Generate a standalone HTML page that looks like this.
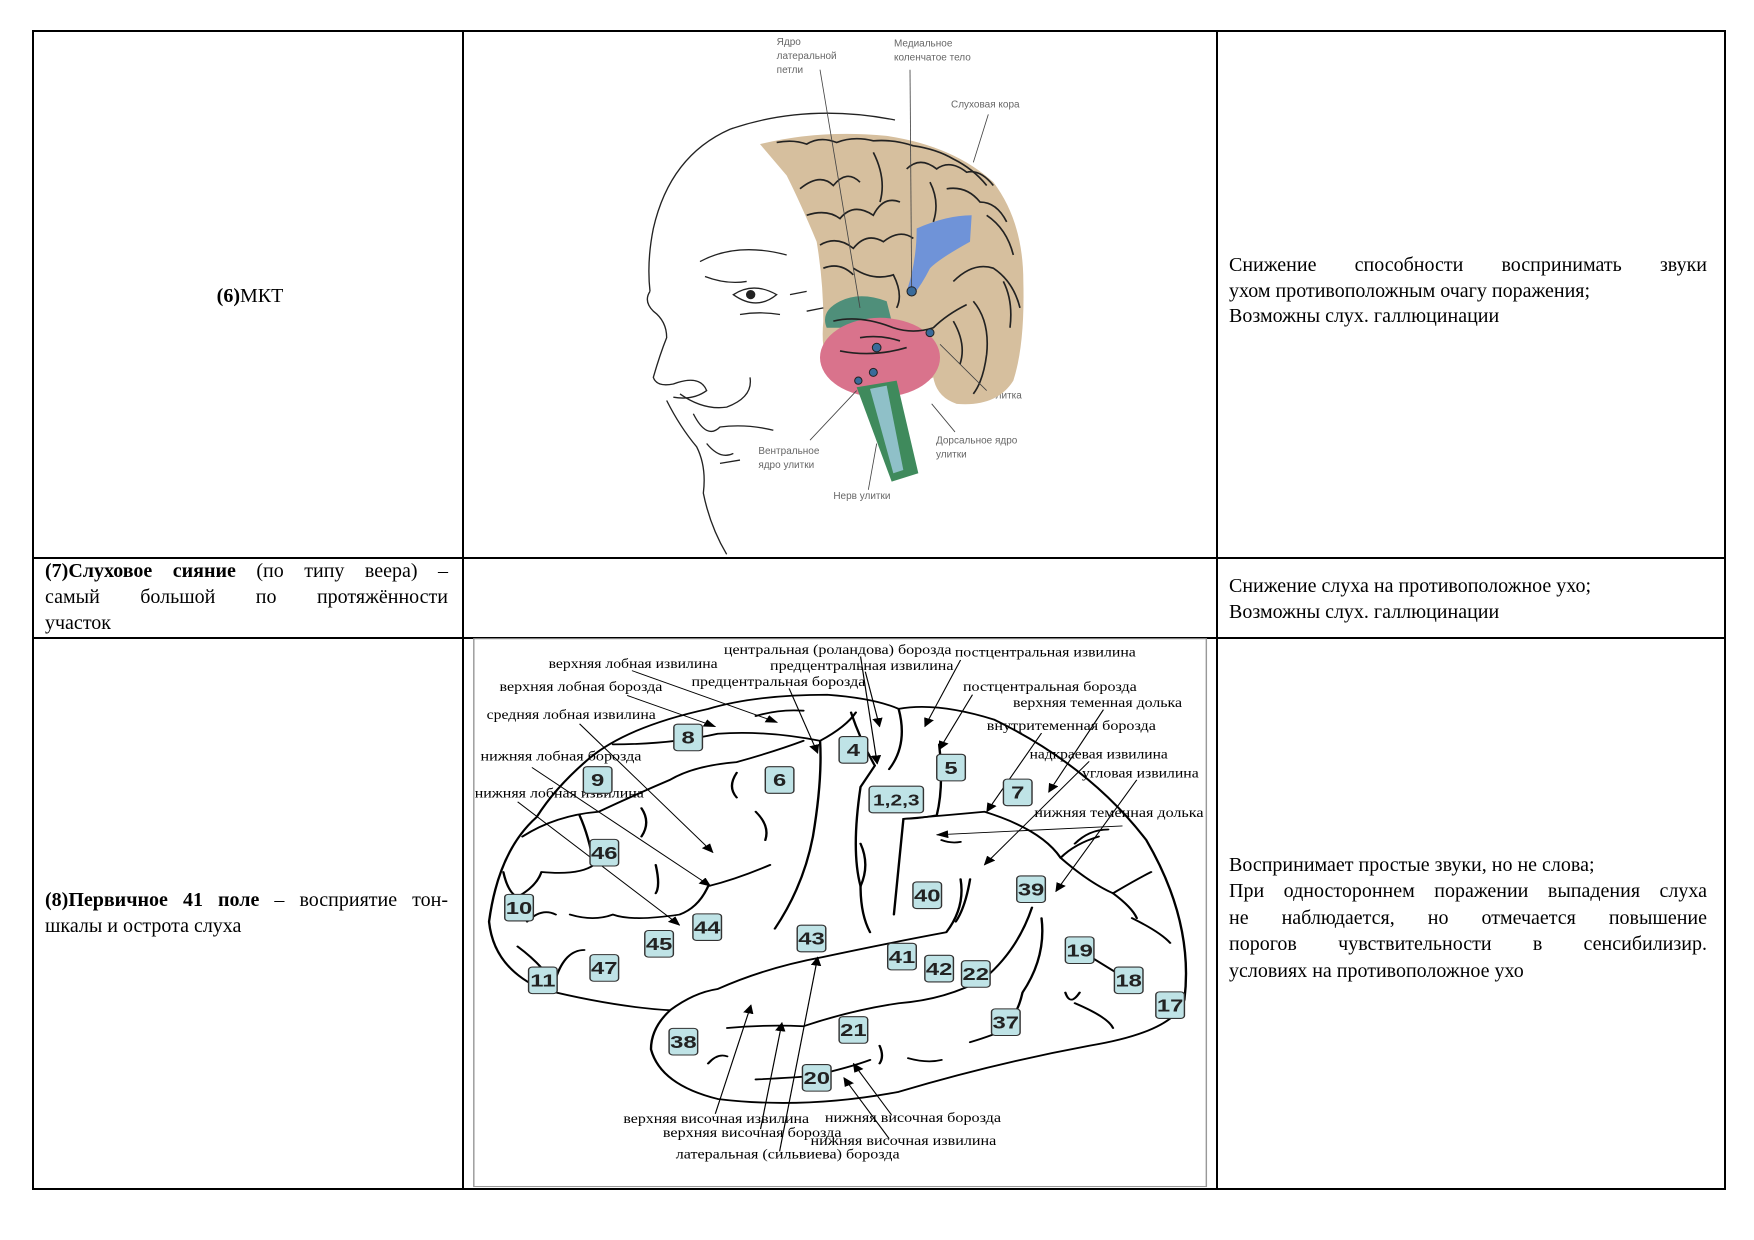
<!DOCTYPE html>
<html><head><meta charset="utf-8">
<style>
html,body{margin:0;padding:0;background:#fff;}
body{width:1754px;height:1240px;position:relative;overflow:hidden;font-family:"Liberation Serif","Noto Serif CJK SC",serif;color:#000;}
.h{position:absolute;height:2px;background:#000;}
.v{position:absolute;width:2px;background:#000;}
.t{position:absolute;font-size:20px;line-height:26px;height:26px;white-space:nowrap;}
.j{text-align:justify;text-align-last:justify;}
</style></head><body>
<div class="h" style="left:32px;top:30px;width:1694px"></div>
<div class="h" style="left:32px;top:557px;width:1694px"></div>
<div class="h" style="left:32px;top:637px;width:1694px"></div>
<div class="h" style="left:32px;top:1188px;width:1694px"></div>
<div class="v" style="left:32px;top:30px;height:1160px"></div>
<div class="v" style="left:462px;top:30px;height:1160px"></div>
<div class="v" style="left:1216px;top:30px;height:1160px"></div>
<div class="v" style="left:1724px;top:30px;height:1160px"></div>

<div class="t" style="left:150px;width:200px;top:283px;text-align:center"><b>(6)</b>МКТ</div>
<div class="t j" style="left:1229px;width:478px;top:252px">Снижение способности воспринимать звуки</div>
<div class="t" style="left:1229px;top:278px">ухом противоположным очагу поражения;</div>
<div class="t" style="left:1229px;top:303px">Возможны слух. галлюцинации</div>

<div class="t j" style="left:45px;width:403px;top:558px"><b>(7)Слуховое сияние</b> (по типу веера) –</div>
<div class="t j" style="left:45px;width:403px;top:584px">самый большой по протяжённости</div>
<div class="t" style="left:45px;top:610px">участок</div>
<div class="t" style="left:1229px;top:573px">Снижение слуха на противоположное ухо;</div>
<div class="t" style="left:1229px;top:599px">Возможны слух. галлюцинации</div>

<div class="t j" style="left:45px;width:403px;top:887px"><b>(8)Первичное 41 поле</b> – восприятие тон-</div>
<div class="t" style="left:45px;top:913px">шкалы и острота слуха</div>
<div class="t" style="left:1229px;top:852px">Воспринимает простые звуки, но не слова;</div>
<div class="t j" style="left:1229px;width:478px;top:878px">При одностороннем поражении выпадения слуха</div>
<div class="t j" style="left:1229px;width:478px;top:905px">не наблюдается, но отмечается повышение</div>
<div class="t j" style="left:1229px;width:478px;top:931px">порогов чувствительности в сенсибилизир.</div>
<div class="t" style="left:1229px;top:958px">условиях на противоположное ухо</div>

<svg style="position:absolute;left:620px;top:30px" width="450" height="526" viewBox="0 0 1350 1590" preserveAspectRatio="none">
<g font-family="Liberation Sans, sans-serif" font-size="30" fill="#666">
<text x="470" y="45">Ядро</text><text x="470" y="87">латеральной</text><text x="470" y="130">петли</text>
<text x="822" y="50">Медиальное</text><text x="822" y="92">коленчатое тело</text>
<text x="993" y="234">Слуховая кора</text>
<text x="1110" y="1114">Улитка</text>
<text x="948" y="1250">Дорсальное ядро</text><text x="948" y="1292">улитки</text>
<text x="415" y="1282">Вентральное</text><text x="415" y="1324">ядро улитки</text>
<text x="640" y="1417">Нерв улитки</text>
</g>
<path d="M420,345 Q600,300 800,320 Q1000,350 1120,460 Q1210,580 1210,760 Q1215,950 1180,1060 Q1130,1140 1010,1130 Q950,1110 940,1050 L880,1080 Q760,1100 640,1060 Q600,980 610,880 Q610,760 590,640 Q540,520 500,440 Z" fill="#d6bf9e"/>
<path d="M660,820 Q720,790 800,820 L820,900 Q720,900 620,900 Q600,850 660,820Z" fill="#4f8f7a"/>
<ellipse cx="780" cy="990" rx="180" ry="120" fill="#d9738c"/>
<path d="M710,1080 L830,1060 L895,1340 L815,1365 Z" fill="#3f8a5c"/>
<path d="M750,1085 L800,1075 L850,1330 L820,1340 Z" fill="#8fc0c8"/>
<path d="M890,600 Q980,560 1055,560 L1050,640 Q960,690 930,720 Q905,770 880,800 L860,790 Q890,700 890,600Z" fill="#6f93d8"/>
<g fill="none" stroke="#222" stroke-width="5">
<path d="M470,340 Q520,330 560,345 Q600,320 650,340 Q700,320 760,335 Q820,330 880,350 Q950,360 1000,390 Q1060,420 1100,470"/>
<path d="M540,480 Q600,430 640,470 Q680,420 720,460 M560,560 Q620,540 660,570 Q700,520 760,560 Q790,500 840,520"/>
<path d="M600,650 Q650,620 700,660 Q740,610 790,640 Q840,600 880,630 M610,720 Q660,700 700,740"/>
<path d="M860,420 Q900,380 950,420 Q990,390 1040,430 Q1080,420 1120,470 M980,480 Q1040,470 1080,520 Q1130,520 1160,580"/>
<path d="M1100,560 Q1160,600 1180,680 M1150,760 Q1180,820 1170,900 M1000,760 Q1060,700 1120,720 Q1180,760 1200,840"/>
<path d="M640,880 Q720,860 820,900 Q880,920 940,900 Q980,860 1040,830"/>
<path d="M1000,880 Q1040,950 1020,1010 M1060,820 Q1110,880 1100,980 Q1090,1060 1060,1100"/>
<path d="M700,720 Q760,760 820,740 Q850,800 830,840"/>
<path d="M720,930 Q780,920 840,940 M660,970 Q760,990 860,960"/>
<path d="M760,370 Q800,450 780,520 M930,460 Q960,520 940,580"/>
</g>
<g fill="none" stroke="#222" stroke-width="4">
<path d="M825,272 Q560,220 330,300 Q150,380 100,600 Q80,700 90,790"/>
<path d="M90,790 Q70,820 100,850 Q140,880 140,930 Q120,980 100,1050 Q110,1080 160,1070 Q240,1040 260,1090 Q220,1120 160,1110"/>
<path d="M140,1120 Q180,1200 230,1260 Q260,1320 250,1400 Q270,1500 320,1585"/>
<path d="M240,700 Q350,640 500,680"/>
<path d="M255,745 Q320,770 380,760"/>
<path d="M340,800 Q400,760 470,800 Q410,850 340,800Z"/>
<path d="M360,860 Q420,850 480,860"/>
<path d="M180,1100 Q250,1150 320,1140 Q400,1110 390,1050 M220,1160 Q260,1240 300,1200 Q380,1190 460,1210 M260,1250 Q300,1300 340,1280 M300,1310 L360,1300"/>
<path d="M510,800 L560,790 M560,850 L610,840"/>
</g>
<circle cx="392" cy="800" r="14" fill="#222"/>
<g stroke="#444" stroke-width="2.5">
<line x1="600" y1="120" x2="720" y2="840"/>
<line x1="870" y1="120" x2="875" y2="790"/>
<line x1="1105" y1="255" x2="1060" y2="400"/>
<line x1="1100" y1="1090" x2="960" y2="950"/>
<line x1="1005" y1="1215" x2="935" y2="1130"/>
<line x1="570" y1="1240" x2="710" y2="1090"/>
<line x1="745" y1="1390" x2="770" y2="1250"/>
</g>
<g fill="#3a6b9a" stroke="#222" stroke-width="3">
<circle cx="875" cy="790" r="14"/><circle cx="930" cy="915" r="12"/><circle cx="770" cy="960" r="13"/><circle cx="760" cy="1035" r="12"/><circle cx="715" cy="1060" r="11"/>
</g>
</svg>

<svg style="position:absolute;left:470px;top:638px" width="743" height="551" viewBox="0 0 1560 1554" preserveAspectRatio="none">
<defs><marker id="b" markerWidth="26" markerHeight="22" refX="24" refY="11" orient="auto" markerUnits="userSpaceOnUse"><path d="M0,0 L26,11 L0,22Z" fill="#000"/></marker></defs>
<rect x="8" y="2" width="1538" height="1545" fill="#fff" stroke="#999" stroke-width="3"/>
<g fill="none" stroke="#000" stroke-width="5" stroke-linecap="round" stroke-linejoin="round">
<path d="M140,505 Q60,600 40,800 Q50,930 150,990 Q300,1040 420,1050 Q380,1100 380,1160 Q400,1260 520,1300 Q700,1330 900,1280 Q1100,1200 1300,1150 Q1480,1110 1500,1020 Q1520,800 1420,570 Q1300,360 1100,230 Q980,180 900,200 Q850,170 750,160 Q600,160 500,200 Q330,250 250,340 Q180,420 140,505Z"/>
<path d="M420,1050 Q470,1000 520,990 Q620,930 740,900 Q880,860 1000,830 Q1040,760 1030,680"/>
<path d="M300,300 Q420,300 520,270 Q620,260 735,290 Q790,250 810,210"/>
<path d="M735,290 Q740,400 720,560 Q700,700 640,820"/>
<path d="M800,210 Q820,290 850,360 Q840,380 820,420 Q800,600 820,700 Q820,780 840,830"/>
<path d="M900,200 Q920,300 880,370"/>
<path d="M985,300 Q995,420 980,500 Q940,510 910,510 Q900,650 890,780"/>
<path d="M910,510 Q1000,500 1080,490 Q1200,540 1240,620 Q1300,690 1350,720 Q1400,680 1430,660"/>
<path d="M1350,720 Q1390,760 1400,790 M1240,620 Q1270,580 1320,560"/>
<path d="M110,560 Q180,500 270,490 Q350,440 420,400 Q470,360 560,350 Q640,320 700,290"/>
<path d="M70,660 Q80,720 100,730 Q140,700 150,660 Q230,670 260,640"/>
<path d="M120,800 Q150,760 180,780 M210,780 Q260,800 300,780 Q340,800 440,780 Q480,760 500,700 Q560,680 630,640"/>
<path d="M100,870 Q130,900 150,930 M180,960 Q200,880 240,880 M230,500 Q250,560 260,640"/>
<path d="M540,1100 Q620,1090 700,1095 Q800,1050 900,1030 Q1000,1020 1080,960 Q1150,880 1180,760"/>
<path d="M600,1245 Q680,1240 720,1235 Q800,1210 840,1190"/>
<path d="M1200,790 Q1210,900 1160,1000 Q1150,1060 1130,1080 M1050,1140 Q1100,1120 1130,1100"/>
<path d="M920,1185 Q960,1200 990,1190 M860,1150 Q870,1180 860,1200 M1280,880 Q1340,930 1383,965 M1250,1000 Q1260,1040 1280,1000 M1270,1030 Q1340,1070 1350,1100"/>
<path d="M1390,790 Q1450,830 1470,860 M1270,580 Q1300,540 1340,540 M500,1200 Q520,1170 540,1180"/>
<path d="M560,380 Q540,420 560,450 M600,490 Q630,530 620,570 M360,480 Q380,520 360,560 M390,640 Q400,700 390,720"/>
<path d="M820,580 Q840,640 820,700 M1050,680 Q1040,760 1020,800"/>
<path d="M990,570 Q1010,580 1030,575 M600,220 Q650,200 700,205"/>
</g>
<g stroke="#000" stroke-width="2.5" marker-end="url(#b)">
<line x1="340" y1="92" x2="645" y2="238"/>
<line x1="330" y1="162" x2="515" y2="250"/>
<line x1="230" y1="242" x2="510" y2="605"/>
<line x1="130" y1="365" x2="505" y2="700"/>
<line x1="100" y1="462" x2="440" y2="810"/>
<line x1="670" y1="142" x2="730" y2="325"/>
<line x1="820" y1="52" x2="855" y2="355"/>
<line x1="830" y1="95" x2="860" y2="250"/>
<line x1="1030" y1="62" x2="955" y2="250"/>
<line x1="1055" y1="160" x2="985" y2="315"/>
<line x1="1200" y1="268" x2="1085" y2="490"/>
<line x1="1330" y1="202" x2="1215" y2="435"/>
<line x1="1300" y1="348" x2="1080" y2="640"/>
<line x1="1400" y1="400" x2="1230" y2="715"/>
<line x1="1370" y1="530" x2="980" y2="555"/>
<line x1="515" y1="1342" x2="590" y2="1035"/>
<line x1="610" y1="1385" x2="655" y2="1085"/>
<line x1="650" y1="1448" x2="730" y2="900"/>
<line x1="885" y1="1345" x2="805" y2="1200"/>
<line x1="880" y1="1412" x2="785" y2="1240"/>
</g>
<g font-family="Liberation Serif, serif" font-size="40" fill="#000">
<text x="533" y="45" textLength="478" lengthAdjust="spacingAndGlyphs">центральная (роландова) борозда</text>
<text x="1018" y="52" textLength="380" lengthAdjust="spacingAndGlyphs">постцентральная извилина</text>
<text x="165" y="85" textLength="355" lengthAdjust="spacingAndGlyphs">верхняя лобная извилина</text>
<text x="630" y="90" textLength="385" lengthAdjust="spacingAndGlyphs">предцентральная извилина</text>
<text x="465" y="135" textLength="365" lengthAdjust="spacingAndGlyphs">предцентральная борозда</text>
<text x="62" y="150" textLength="342" lengthAdjust="spacingAndGlyphs">верхняя лобная борозда</text>
<text x="1035" y="150" textLength="365" lengthAdjust="spacingAndGlyphs">постцентральная борозда</text>
<text x="1140" y="195" textLength="355" lengthAdjust="spacingAndGlyphs">верхняя теменная долька</text>
<text x="35" y="228" textLength="355" lengthAdjust="spacingAndGlyphs">средняя лобная извилина</text>
<text x="1085" y="260" textLength="355" lengthAdjust="spacingAndGlyphs">внутритеменная борозда</text>
<text x="22" y="345" textLength="338" lengthAdjust="spacingAndGlyphs">нижняя лобная борозда</text>
<text x="1175" y="340" textLength="290" lengthAdjust="spacingAndGlyphs">надкраевая извилина</text>
<text x="1285" y="393" textLength="245" lengthAdjust="spacingAndGlyphs">угловая извилина</text>
<text x="10" y="450" textLength="355" lengthAdjust="spacingAndGlyphs">нижняя лобная извилина</text>
<text x="1185" y="505" textLength="355" lengthAdjust="spacingAndGlyphs">нижняя теменная долька</text>
<text x="322" y="1368" textLength="390" lengthAdjust="spacingAndGlyphs">верхняя височная извилина</text>
<text x="745" y="1365" textLength="370" lengthAdjust="spacingAndGlyphs">нижняя височная борозда</text>
<text x="405" y="1408" textLength="375" lengthAdjust="spacingAndGlyphs">верхняя височная борозда</text>
<text x="715" y="1430" textLength="390" lengthAdjust="spacingAndGlyphs">нижняя височная извилина</text>
<text x="432" y="1468" textLength="470" lengthAdjust="spacingAndGlyphs">латеральная (сильвиева) борозда</text>
</g>
<g font-family="Liberation Sans, sans-serif" font-size="50" font-weight="bold" text-anchor="middle" fill="#222">
<g fill="#bfe3e6" stroke="#333" stroke-width="3">
<rect x="428" y="243" width="60" height="75" rx="8"/><rect x="238" y="363" width="60" height="75" rx="8"/>
<rect x="620" y="363" width="60" height="75" rx="8"/><rect x="775" y="278" width="60" height="75" rx="8"/>
<rect x="980" y="328" width="60" height="75" rx="8"/><rect x="838" y="418" width="114" height="75" rx="8"/>
<rect x="1120" y="398" width="60" height="75" rx="8"/><rect x="252" y="568" width="60" height="75" rx="8"/>
<rect x="73" y="723" width="60" height="75" rx="8"/><rect x="930" y="688" width="60" height="75" rx="8"/>
<rect x="1148" y="671" width="60" height="75" rx="8"/><rect x="468" y="778" width="60" height="75" rx="8"/>
<rect x="367" y="825" width="60" height="75" rx="8"/><rect x="687" y="810" width="60" height="75" rx="8"/>
<rect x="877" y="861" width="60" height="75" rx="8"/><rect x="955" y="895" width="60" height="75" rx="8"/>
<rect x="1032" y="910" width="60" height="75" rx="8"/><rect x="1250" y="843" width="60" height="75" rx="8"/>
<rect x="1353" y="928" width="60" height="75" rx="8"/><rect x="1440" y="998" width="60" height="75" rx="8"/>
<rect x="252" y="893" width="60" height="75" rx="8"/><rect x="123" y="928" width="60" height="75" rx="8"/>
<rect x="418" y="1101" width="60" height="75" rx="8"/><rect x="775" y="1068" width="60" height="75" rx="8"/>
<rect x="1095" y="1046" width="60" height="75" rx="8"/><rect x="698" y="1203" width="60" height="75" rx="8"/>
</g>
<text x="458" y="298">8</text><text x="268" y="418">9</text><text x="650" y="418">6</text><text x="805" y="333">4</text>
<text x="1010" y="383">5</text><text x="895" y="473" font-size="44">1,2,3</text><text x="1150" y="453">7</text><text x="282" y="623">46</text>
<text x="103" y="778">10</text><text x="960" y="743">40</text><text x="1178" y="726">39</text><text x="498" y="833">44</text>
<text x="397" y="880">45</text><text x="717" y="865">43</text><text x="907" y="916">41</text><text x="985" y="950">42</text>
<text x="1062" y="965">22</text><text x="1280" y="898">19</text><text x="1383" y="983">18</text><text x="1470" y="1053">17</text>
<text x="282" y="948">47</text><text x="153" y="983">11</text><text x="448" y="1156">38</text><text x="805" y="1123">21</text>
<text x="1125" y="1101">37</text><text x="728" y="1258">20</text>
</g>
</svg>
</body></html>
